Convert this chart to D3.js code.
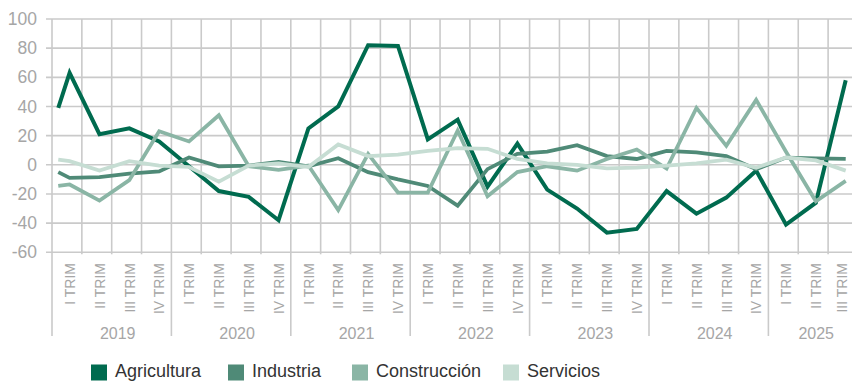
<!DOCTYPE html>
<html>
<head>
<meta charset="utf-8">
<script src="https://cdn.jsdelivr.net/npm/d3@7"></script>
<style>
  html, body { margin: 0; padding: 0; background: #fff; }
  svg { display: block; font-family: "Liberation Sans", Arial, sans-serif; }
</style>
</head>
<body>
<svg id="chart" width="852" height="381"></svg>
<script>
// Quarterly balance by sector, 2019 – 2025 (III TRIM)
const years = ["2019", "2020", "2021", "2022", "2023", "2024", "2025"];
const quarterNames = ["I TRIM", "II TRIM", "III TRIM", "IV TRIM"];
const yTicks = [-60, -40, -20, 0, 20, 40, 60, 80, 100];
const seriesNames = ["Agricultura", "Industria", "Construcción", "Servicios"];
const seriesColors = ["#006b4f", "#4f8a77", "#8ab5a5", "#c6ddd3"];

// First value of each series is its opening reading at the left edge,
// followed by one value per quarter from I TRIM 2019 to III TRIM 2025.
const agricultura = [39, 63, 21, 25, 16, -1, -18, -22, -38, 25, 40, 82, 81.5, 17.5, 31, -15, 14.5, -17, -30, -46.5, -44, -18, -33.5, -22.5, -4, -41, -26, 58];
const industria = [-5, -9, -8.5, -6, -4.5, 5, -1, -0.5, 2, -1, 4.5, -5, -10, -14.5, -28, -3, 7.5, 9, 13.5, 6, 4, 9.5, 8.5, 6, -3, 5, 4.5, 4];
const construccion = [-14.5, -13.5, -24.5, -10.5, 23, 16, 34, -1, -3.5, -0.5, -31, 7.5, -19, -19, 23.5, -21.5, -5, -1, -4, 4, 10.5, -2.5, 39, 13, 44.5, 9, -25, -11];
const servicios = [3.5, 2.5, -4, 2.5, -0.5, -1.5, -11.5, -0.5, 1, -1.5, 14, 6, 7, 9.5, 11.5, 11, 4, 1, 0, -2.5, -2, -0.5, 1, 3.5, -2, 5, 3, -4];

const seriesValues = [agricultura, industria, construccion, servicios];

// period list: every quarter of every year up to III TRIM 2025
const periods = [];
years.forEach(yr => quarterNames.forEach(q => periods.push({ year: yr, quarter: q })));
periods.length = 27;

const svg = d3.select("#chart");
const W = 852, H = 381;
const plotLeft = 52, plotTop = 19, plotBottom = 252.3;
const step = 29.85;

// slot scale: integer positions are the quarter boundaries
const x = d3.scaleLinear().domain([0, periods.length]).range([plotLeft, plotLeft + step * periods.length]);
const y = d3.scaleLinear().domain([-60, 100]).range([plotBottom, plotTop]);

// opening reading sits just inside the left edge; quarters follow
const pointPos = k => (k === 0 ? 0.21 : k - 1 + 0.59);

const gridColor = "#cacaca";
const textGray = "#a6a6a6";

// horizontal grid + tick marks
const gy = svg.append("g");
gy.selectAll("line").data(yTicks).join("line")
  .attr("x1", plotLeft - 6).attr("x2", W)
  .attr("y1", d => y(d)).attr("y2", d => y(d))
  .attr("stroke", gridColor).attr("stroke-width", 1.6);
gy.selectAll("text").data(yTicks).join("text")
  .attr("x", 37).attr("y", d => y(d))
  .attr("dy", "0.35em")
  .attr("text-anchor", "end")
  .attr("font-size", 17.5)
  .attr("fill", textGray)
  .text(d => d);

// vertical grid at quarter boundaries
const bounds = d3.range(0, periods.length + 1);
svg.append("g").selectAll("line").data(bounds).join("line")
  .attr("x1", d => x(d)).attr("x2", d => x(d))
  .attr("y1", plotTop).attr("y2", d => (d % 4 === 0 ? 336 : plotBottom + 2))
  .attr("stroke", gridColor).attr("stroke-width", 1.6);

// quarter labels (rotated)
svg.append("g").selectAll("text").data(periods).join("text")
  .attr("transform", (d, i) => `translate(${Math.min(x(i + 0.6), W - 10)},263) rotate(-90)`)
  .attr("text-anchor", "end")
  .attr("dy", "0.35em")
  .attr("font-size", 14)
  .attr("fill", textGray)
  .text(d => d.quarter);

// year labels
svg.append("g").selectAll("text").data(years).join("text")
  .attr("x", (d, i) => {
    const a = x(i * 4), b = Math.min(x(Math.min(i * 4 + 4, periods.length)), W);
    return (a + b) / 2 + 6;
  })
  .attr("y", 339)
  .attr("text-anchor", "middle")
  .attr("font-size", 16)
  .attr("fill", textGray)
  .text(d => d);

// series lines
const line = d3.line()
  .x((d, k) => x(pointPos(k)))
  .y(d => y(d));

svg.append("g").selectAll("path").data(seriesValues).join("path")
  .attr("d", d => line(d))
  .attr("fill", "none")
  .attr("stroke", (d, i) => seriesColors[i])
  .attr("stroke-width", (d, i) => (i === 0 ? 4 : 3.75))
  .attr("stroke-linejoin", "miter")
  .attr("stroke-linecap", "butt");

// legend
const legendX = [91, 228, 352, 503];
const lg = svg.append("g").selectAll("g").data(seriesNames).join("g")
  .attr("transform", (d, i) => `translate(${legendX[i]},0)`);
lg.append("rect")
  .attr("x", 0).attr("y", 364.5).attr("width", 16).attr("height", 16)
  .attr("fill", (d, i) => seriesColors[i]);
lg.append("text")
  .attr("x", 24).attr("y", 377)
  .attr("font-size", 18)
  .attr("fill", "#333")
  .text(d => d);
</script>
</body>
</html>
